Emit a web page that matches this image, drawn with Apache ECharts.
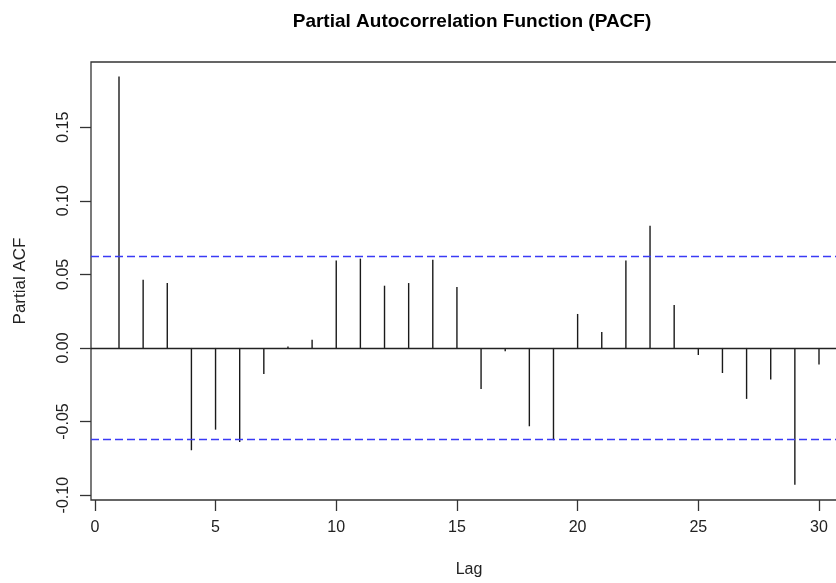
<!DOCTYPE html>
<html>
<head>
<meta charset="utf-8">
<script src="https://cdn.jsdelivr.net/npm/echarts@6/dist/echarts.min.js"></script>
<style>
  html, body { margin: 0; padding: 0; background: #fff; }
  #main { width: 836px; height: 583px; }
</style>
</head>
<body>
<div id="main"></div>
<script>
    // PACF values, lags 1..30
    var lags = [1, 2, 3, 4, 5, 6, 7, 8, 9, 10, 11, 12, 13, 14, 15,
                16, 17, 18, 19, 20, 21, 22, 23, 24, 25, 26, 27, 28, 29, 30];
    var pacf = [0.1845, 0.0464, 0.0441, -0.0695, -0.0555, -0.0639, -0.0177, 0.0010, 0.0056, 0.0595,
                0.0607, 0.0423, 0.0441, 0.0600, 0.0414, -0.0279, -0.0023, -0.0532, -0.0627, 0.0231,
                0.0109, 0.0595, 0.0831, 0.0292, -0.0048, -0.0170, -0.0346, -0.0215, -0.0929, -0.0113];
    var clim = 0.062;
    var xTicks = [0, 5, 10, 15, 20, 25, 30];
    var yTicks = [-0.10, -0.05, 0.00, 0.05, 0.10, 0.15];

    var chart = echarts.init(document.getElementById('main'));

    var points = [];
    for (var i = 0; i < lags.length; i++) {
        points.push([lags[i], pacf[i]]);
    }

    var font = 'Liberation Sans, Arial, sans-serif';

    var option = {
        animation: false,
        backgroundColor: '#fff',
        title: {
            text: 'Partial Autocorrelation Function (PACF)',
            left: 467,
            top: 7,
            textAlign: 'center',
            textStyle: { fontFamily: font, fontSize: 19, fontWeight: 'bold', color: '#000' }
        },
        grid: {
            left: 91,
            top: 62,
            right: -11,
            bottom: 83,
            containLabel: false,
            outerBoundsMode: 'none',
            show: true,
            borderColor: '#333',
            borderWidth: 1.3,
            backgroundColor: 'transparent'
        },
        xAxis: {
            type: 'value',
            min: -0.16,
            max: 31.16,
            name: 'Lag',
            nameLocation: 'middle',
            nameGap: 62,
            nameTextStyle: { fontFamily: font, fontSize: 16, color: '#222' },
            axisLine: { show: false, onZero: false },
            splitLine: { show: false },
            axisTick: { show: true, inside: false, length: 11, customValues: xTicks,
                        lineStyle: { color: '#333', width: 1.3 } },
            axisLabel: { show: true, margin: 20, customValues: xTicks,
                         fontFamily: font, fontSize: 16, color: '#222' }
        },
        yAxis: {
            type: 'value',
            min: -0.1033,
            max: 0.1943,
            name: 'Partial ACF',
            nameLocation: 'middle',
            nameGap: 62,
            nameTextStyle: { fontFamily: font, fontSize: 17, color: '#222' },
            axisLine: { show: false, onZero: false },
            splitLine: { show: false },
            axisTick: { show: true, inside: false, length: 11, customValues: yTicks,
                        lineStyle: { color: '#333', width: 1.3 } },
            axisLabel: {
                show: true, rotate: 90, margin: 19, customValues: yTicks,
                fontFamily: font, fontSize: 16, color: '#222',
                formatter: function (v) { return v.toFixed(2); }
            }
        },
        series: [
            {
                type: 'custom',
                data: points,
                renderItem: function (params, api) {
                    var p0 = api.coord([api.value(0), 0]);
                    var p1 = api.coord([api.value(0), api.value(1)]);
                    return {
                        type: 'line',
                        shape: { x1: p0[0], y1: p0[1], x2: p1[0], y2: p1[1] },
                        style: { stroke: '#1a1a1a', lineWidth: 1.4 }
                    };
                },
                markLine: {
                    silent: true,
                    symbol: 'none',
                    precision: 4,
                    label: { show: false },
                    data: [
                        { yAxis: 0, lineStyle: { color: '#222', width: 1.3, type: 'solid' } },
                        { yAxis: clim, lineStyle: { color: '#3a3af5', width: 1.4, type: [8, 4] } },
                        { yAxis: -clim, lineStyle: { color: '#3a3af5', width: 1.4, type: [8, 4] } }
                    ]
                }
            }
        ]
    };

    chart.setOption(option);
</script>
</body>
</html>
